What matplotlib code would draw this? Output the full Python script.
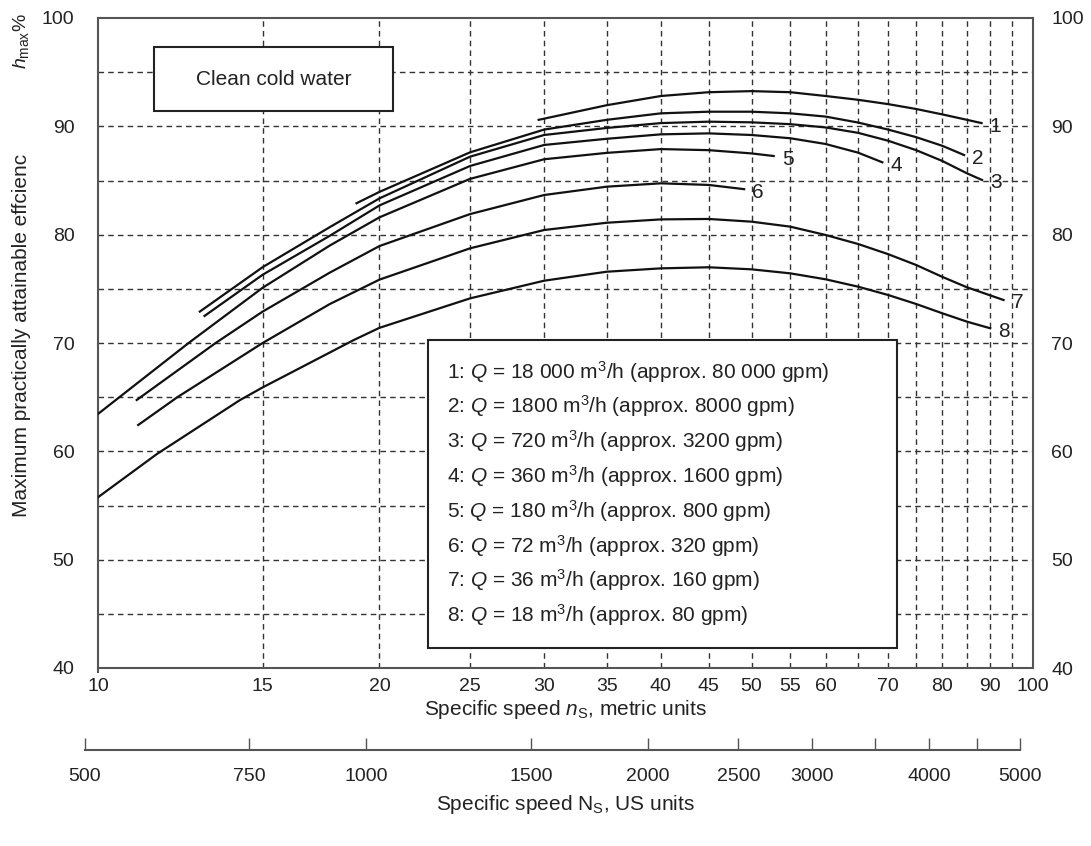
import matplotlib
matplotlib.use("Agg")
import matplotlib.pyplot as plt
from matplotlib.patches import Rectangle
from matplotlib.ticker import FixedLocator, NullLocator

plt.rcParams.update({
    'font.family': ['Liberation Sans', 'DejaVu Sans'],
    'mathtext.fontset': 'custom',
    'mathtext.rm': 'Liberation Sans',
    'mathtext.it': 'Liberation Sans:italic',
    'text.color': '#222222',
    'axes.labelcolor': '#222222',
    'xtick.color': '#222222',
    'ytick.color': '#222222',
})

# ---- data (specific speed n_s metric, max efficiency %) ----
ns_1 = [29.6, 35, 40, 45, 50, 55, 60, 65, 70, 75, 80, 85, 88.1]
eta_1 = [90.6, 91.95, 92.8, 93.15, 93.25, 93.15, 92.8, 92.45, 92.05, 91.6, 91.1, 90.6, 90.3]

ns_2 = [18.9, 20, 25, 30, 35, 40, 45, 50, 55, 60, 65, 70, 75, 80, 84.4]
eta_2 = [82.9, 83.95, 87.6, 89.7, 90.6, 91.2, 91.35, 91.35, 91.2, 90.9, 90.35, 89.7, 89.0, 88.2, 87.35]

ns_3 = [12.85, 15, 17.7, 20, 25, 30, 35, 40, 45, 50, 55, 60, 65, 70, 75, 80, 85, 88.2]
eta_3 = [72.9, 77.0, 80.7, 83.35, 87.2, 89.2, 89.85, 90.3, 90.43, 90.37, 90.2, 89.9, 89.4, 88.67, 87.8, 86.8, 85.66, 85.05]

ns_4 = [13.0, 15, 17.7, 20, 25, 30, 35, 40, 45, 50, 55, 60, 65, 69]
eta_4 = [72.5, 76.3, 79.9, 82.7, 86.34, 88.28, 88.85, 89.26, 89.35, 89.2, 88.9, 88.37, 87.57, 86.68]

ns_5 = [10, 11, 12.5, 15, 17.7, 20, 25, 30, 35, 40, 45, 50, 52.8]
eta_5 = [63.45, 66.25, 70.0, 75.1, 79.0, 81.6, 85.15, 86.96, 87.55, 87.9, 87.8, 87.5, 87.26]

ns_6 = [11.0, 13.36, 15, 17.7, 20, 25, 30, 35, 40, 45, 49.1]
eta_6 = [64.74, 70.0, 72.9, 76.5, 78.95, 81.9, 83.66, 84.43, 84.74, 84.59, 84.2]

ns_7 = [11.04, 12.16, 15, 17.7, 20, 25, 30, 35, 40, 45, 50, 55, 60, 65, 70, 75, 80, 85, 93]
eta_7 = [62.43, 65.0, 70.0, 73.6, 75.85, 78.74, 80.43, 81.1, 81.41, 81.45, 81.2, 80.74, 79.97, 79.14, 78.2, 77.2, 76.1, 75.14, 73.97]

ns_8 = [10, 11.56, 14.19, 15, 18.8, 20, 25, 30, 35, 40, 45, 50, 55, 60, 65, 70, 75, 80, 85, 90]
eta_8 = [55.76, 59.75, 64.74, 65.9, 70.3, 71.4, 74.12, 75.75, 76.58, 76.89, 76.99, 76.8, 76.43, 75.88, 75.2, 74.43, 73.6, 72.74, 71.97, 71.36]

curve_ids = ['1', '2', '3', '4', '5', '6', '7', '8']
legend_lines = [
    r'1: $Q$ = 18 000 m$^3$/h (approx. 80 000 gpm)',
    r'2: $Q$ = 1800 m$^3$/h (approx. 8000 gpm)',
    r'3: $Q$ = 720 m$^3$/h (approx. 3200 gpm)',
    r'4: $Q$ = 360 m$^3$/h (approx. 1600 gpm)',
    r'5: $Q$ = 180 m$^3$/h (approx. 800 gpm)',
    r'6: $Q$ = 72 m$^3$/h (approx. 320 gpm)',
    r'7: $Q$ = 36 m$^3$/h (approx. 160 gpm)',
    r'8: $Q$ = 18 m$^3$/h (approx. 80 gpm)',
]

x_ticks = [10, 15, 20, 25, 30, 35, 40, 45, 50, 55, 60, 70, 80, 90, 100]
x_grid = [15, 20, 25, 30, 35, 40, 45, 50, 55, 60, 65, 70, 75, 80, 85, 90, 95]
y_ticks = [40, 50, 60, 70, 80, 90, 100]
y_grid = [45, 50, 55, 60, 65, 70, 75, 80, 85, 90, 95]
us_ticks = [500, 750, 1000, 1500, 2000, 2500, 3000, 3500, 4000, 4500, 5000]
us_labels = ['500', '750', '1000', '1500', '2000', '2500', '3000', '', '4000', '', '5000']
US_PER_METRIC = 51.65  # N_s (US) = 51.65 * n_s (metric)

W, H = 1091, 846
fig = plt.figure(figsize=(W / 100, H / 100), dpi=100)

# main axes in pixel placement
L, R, T, B = 98, 1033, 18, 668
rect = [L / W, 1 - B / H, (R - L) / W, (B - T) / H]
ax = fig.add_axes(rect)
ax.set_xscale('log')
ax.set_xlim(10, 100)
ax.set_ylim(40, 100)

for v in x_grid:
    ax.axvline(v, color='#333333', lw=1.0, ls=(0, (4, 3)), zorder=1)
for v in y_grid:
    ax.axhline(v, color='#333333', lw=1.0, ls=(0, (4, 3)), zorder=1)

all_ns = [ns_1, ns_2, ns_3, ns_4, ns_5, ns_6, ns_7, ns_8]
all_eta = [eta_1, eta_2, eta_3, eta_4, eta_5, eta_6, eta_7, eta_8]
for cid, xs, ys in zip(curve_ids, all_ns, all_eta):
    ax.plot(xs, ys, color='#111111', lw=1.6, zorder=3, solid_joinstyle='round')
    ax.annotate(cid, xy=(xs[-1], ys[-1]), xytext=(14, -3), textcoords='offset pixels',
                ha='center', va='center', fontsize=15, color='#222222', zorder=4)

ax.xaxis.set_major_locator(FixedLocator(x_ticks))
ax.xaxis.set_minor_locator(NullLocator())
ax.set_xticklabels([str(t) for t in x_ticks])
ax.set_yticks(y_ticks)
ax.tick_params(axis='x', labelsize=14, length=0, pad=7)
ax.tick_params(axis='y', labelsize=14, length=0, pad=17)
for s in ax.spines.values():
    s.set_color('#555555')
    s.set_linewidth(1.5)
ax.spines['left'].set_bounds(39.6, 100)

# right-hand labels
axr = ax.twinx()
axr.set_ylim(40, 100)
axr.set_yticks(y_ticks)
axr.tick_params(axis='y', labelsize=14, length=0, pad=13)
for s in axr.spines.values():
    s.set_visible(False)

ax.set_xlabel(r'Specific speed $n_{\mathrm{S}}$, metric units', fontsize=15, labelpad=2)
ax.set_ylabel('Maximum practically attainable effcienc', fontsize=15)
ax.yaxis.set_label_coords(-0.072, 0.512)
ax.text(-0.082, 1.008, r'$h_{\mathrm{max}}$%', transform=ax.transAxes, rotation=90,
        ha='center', va='top', fontsize=14)

# "Clean cold water" box
ax.add_patch(Rectangle((0.0599, 0.8574), 0.2553, 0.0984, transform=ax.transAxes,
                       facecolor='white', edgecolor='#222222', lw=1.5, zorder=5))
ax.text(0.1875, 0.9057, 'Clean cold water', transform=ax.transAxes,
        ha='center', va='center', fontsize=15, zorder=6)

# flow-rate key box
ax.add_patch(Rectangle((0.3533, 0.0303), 0.5009, 0.4743, transform=ax.transAxes,
                       facecolor='white', edgecolor='#222222', lw=1.5, zorder=5))
for i, line in enumerate(legend_lines):
    ax.text(0.373, 0.4558 - i * 0.0535, line, transform=ax.transAxes,
            ha='left', va='center', fontsize=15, zorder=6)

# secondary scale in US units, aligned with the metric axis
# (axes starts a little left of the main one so that 500 fits)
L2 = 70
ax2 = fig.add_axes([L2 / W, 1 - 750 / H, (R - L2) / W, 0.0001])
ax2.set_xscale('log')
ax2.set_xlim(10 * US_PER_METRIC * 10 ** ((L2 - L) / (R - L)), 100 * US_PER_METRIC)
ax2.set_yticks([])
for k in ('left', 'right', 'top'):
    ax2.spines[k].set_visible(False)
ax2.spines['bottom'].set_color('#555555')
ax2.spines['bottom'].set_linewidth(1.5)
ax2.spines['bottom'].set_bounds(us_ticks[0], us_ticks[-1])
ax2.patch.set_visible(False)
ax2.xaxis.set_major_locator(FixedLocator(us_ticks))
ax2.xaxis.set_minor_locator(NullLocator())
ax2.set_xticklabels(us_labels)
ax2.tick_params(axis='x', direction='in', length=9, width=1, labelsize=14, pad=13,
                color='#555555')
ax2.set_xlabel(r'Specific speed N$_{\mathrm{S}}$, US units', fontsize=15, labelpad=6)
ax2.xaxis.label.set_x(((L + R) / 2 - L2) / (R - L2))

fig.savefig('out.png', dpi=100)
